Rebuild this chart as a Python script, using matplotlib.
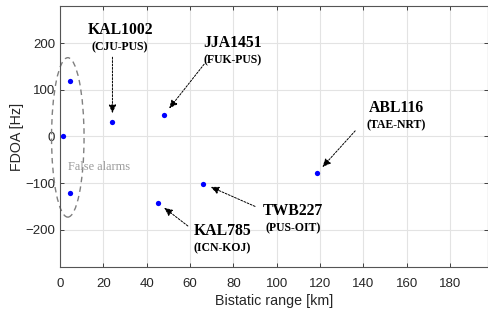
import matplotlib
matplotlib.use("Agg")
import matplotlib.pyplot as plt
from matplotlib.patches import Ellipse

# detections (bistatic range km, FDOA Hz)
rng = [1.5, 4.6, 4.6, 24.2, 48.0, 45.0, 66.0, 118.5]
fdoa = [0, 119, -121, 32, 46, -142, -101, -79]

# labelled targets: name, route, index of point, label pos, arrow start
names = ["KAL1002", "JJA1451", "ABL116", "TWB227", "KAL785"]
routes = ["(CJU-PUS)", "(FUK-PUS)", "(TAE-NRT)", "(PUS-OIT)", "(ICN-KOJ)"]
pt_idx = [3, 4, 7, 6, 5]
lab_x = [27.7, 79.8, 155.3, 107.4, 74.8]
lab_y = [229, 200, 61, -160, -203]
arr_x = [24.2, 66.5, 136.2, 90.0, 59.0]
arr_y = [170, 155, 12, -150, -192]

plt.rcParams['font.family'] = ['Liberation Sans', 'DejaVu Sans']

fig = plt.figure(figsize=(4.89, 3.12), dpi=100)
ax = fig.add_axes([0.1227, 0.1442, 0.998 - 0.1227, 0.981 - 0.1442])

ax.plot(rng, fdoa, 'o', color='blue', ms=3.8, mec='none', zorder=3)

ax.set_xlim(0, 197.5)
ax.set_ylim(-280, 280)
ax.set_xticks(range(0, 181, 20))
ax.set_yticks([-200, -100, 0, 100, 200])
ax.grid(True, color='#e3e3e3', lw=0.8)
ax.set_axisbelow(True)
ax.tick_params(direction='in', top=True, right=True, length=3, width=0.7,
               colors='#404040', labelsize=9.5, labelcolor='#262626')
ax.tick_params(axis='x', pad=8)
for s in ax.spines.values():
    s.set_color('#555555')
    s.set_linewidth(0.8)
ax.set_xlabel('Bistatic range [km]', fontsize=10.3, color='#262626', labelpad=3)
ax.set_ylabel('FDOA [Hz]', fontsize=10.3, color='#262626', labelpad=1)

# false alarm region
ell = Ellipse((3.6, -2), 15, 342, fill=False, ls=(0, (4, 3)), ec='#808080',
              lw=1.0, clip_on=False)
ax.add_patch(ell)
ax.text(3.7, -65, 'False alarms', family='Liberation Serif', fontsize=8.9,
        color='#9a9a9a', ha='left', va='center')

for i in range(len(names)):
    ax.text(lab_x[i], lab_y[i], names[i], family='Liberation Serif',
            fontweight='bold', fontsize=11.3, ha='center', va='center')
    ax.text(lab_x[i], lab_y[i] - 37, routes[i], family='Liberation Serif',
            fontweight='bold', fontsize=8.5, ha='center', va='center')
    p = pt_idx[i]
    ax.annotate('', xy=(rng[p], fdoa[p]), xytext=(arr_x[i], arr_y[i]),
                arrowprops=dict(arrowstyle='-|>,head_length=0.5,head_width=0.22',
                                color='black', lw=0.7, ls=(0, (2, 1.5)),
                                shrinkA=0, shrinkB=6))

fig.savefig('out.png', dpi=100)
